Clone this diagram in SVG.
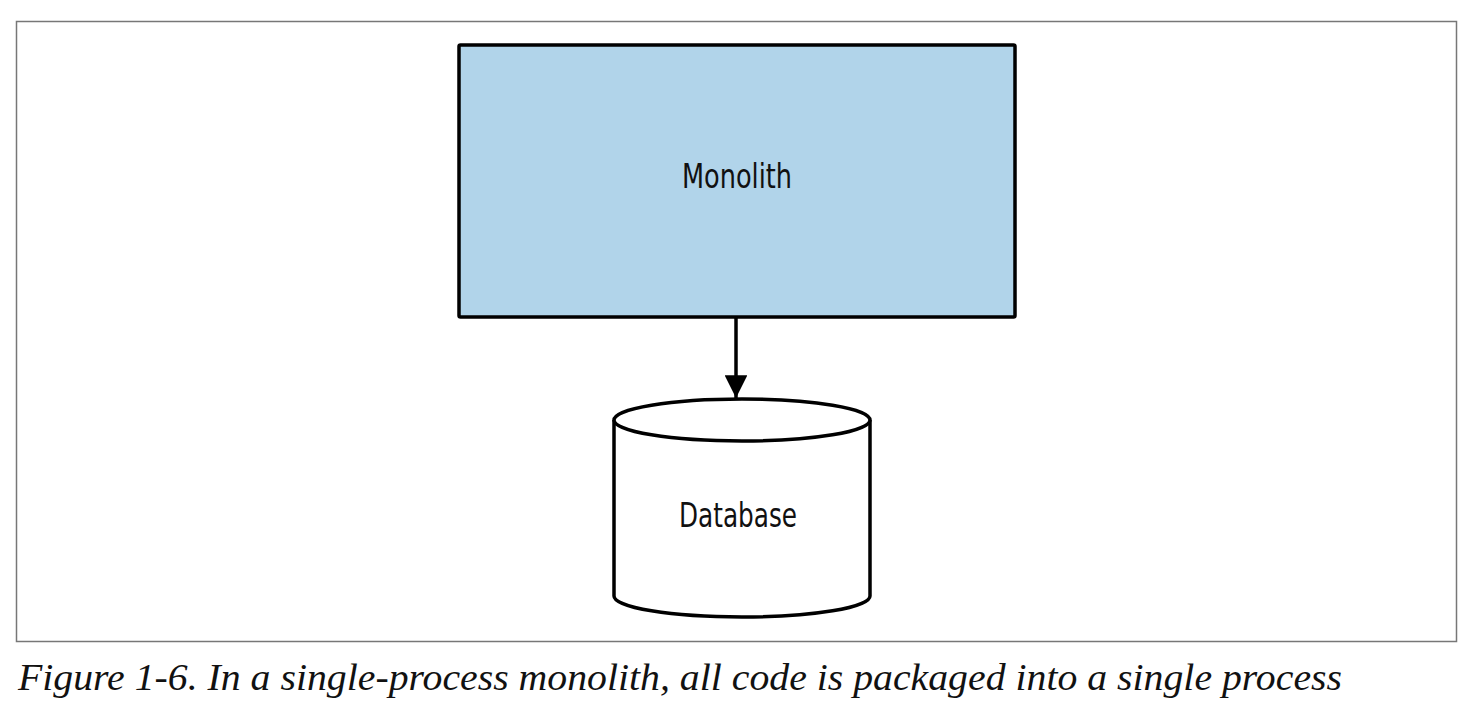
<svg xmlns="http://www.w3.org/2000/svg" width="1476" height="710" viewBox="0 0 1476 710">
<defs>
<style>
.lbl{font-family:"DejaVu Sans Condensed","DejaVu Sans",sans-serif;font-stretch:condensed;font-size:33px;fill:#111;text-anchor:middle}
.cap{font-family:"Liberation Serif","Times New Roman",serif;font-style:italic;font-size:37px;fill:#111}
.shape{stroke:#000;stroke-width:3.5;stroke-linejoin:round}
</style>
<marker id="arr" viewBox="0 0 10 10" refX="10" refY="5" markerWidth="6.5" markerHeight="6.5" markerUnits="strokeWidth" orient="auto">
<path d="M0,0 L10,5 L0,10 z" fill="#000"/>
</marker>
</defs>
<rect width="1476" height="710" fill="#fff"/>
<rect x="16.5" y="21.5" width="1440" height="620" fill="none" stroke="#777" stroke-width="1.5"/>
<g id="monolith">
<rect class="shape" x="459" y="45" width="556" height="272" rx="1.5" fill="#b1d4ea"/>
<text class="lbl" x="737" y="188" textLength="110" lengthAdjust="spacingAndGlyphs">Monolith</text>
</g>
<g id="database">
<path class="shape" fill="#fff" d="M614,420 L614,596 A128,21 0 0 0 870,596 L870,420"/>
<ellipse class="shape" cx="742" cy="420" rx="128" ry="21" fill="#fff"/>
<text class="lbl" x="738" y="527" textLength="118" lengthAdjust="spacingAndGlyphs">Database</text>
</g>
<g id="connectors">
<line x1="736" y1="317" x2="736" y2="398" stroke="#000" stroke-width="3.5" marker-end="url(#arr)"/>
</g>
<text class="cap" x="18" y="690" textLength="1324" lengthAdjust="spacingAndGlyphs">Figure 1-6. In a single-process monolith, all code is packaged into a single process</text>
</svg>
